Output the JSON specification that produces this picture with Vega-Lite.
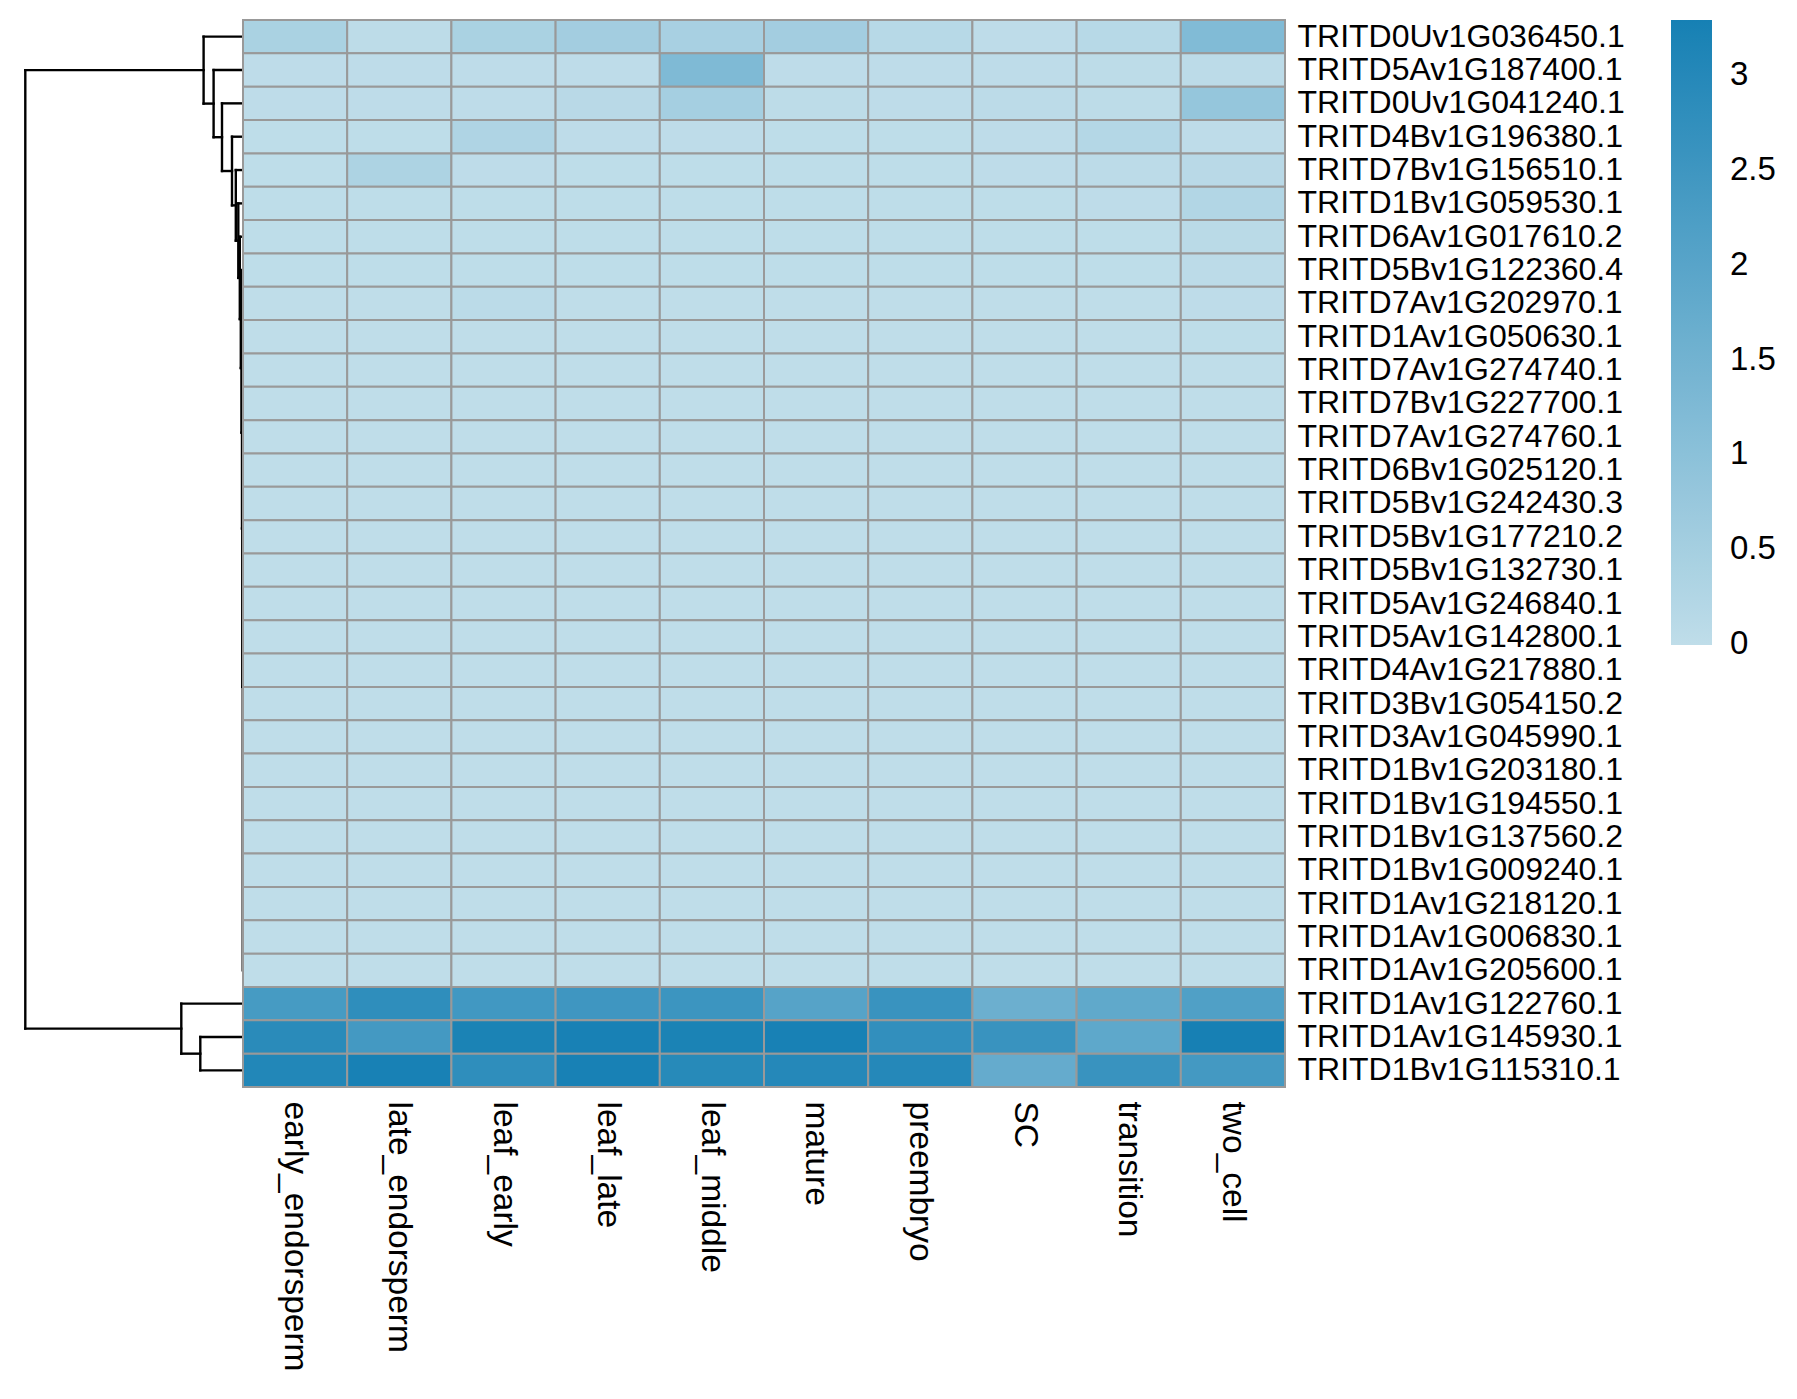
{
  "$schema": "https://vega.github.io/schema/vega-lite/v6.json",
  "background": "white",
  "padding": {"left": 0, "top": 19, "right": 0, "bottom": 0},
  "bounds": "flush",
  "spacing": 0,
  "config": {
    "view": {"stroke": null},
    "font": "Liberation Sans",
    "axis": {"labelFont": "Liberation Sans", "labelColor": "black", "ticks": false, "domain": false, "grid": false, "title": null, "labelLimit": 1000},
    "legend": {"labelFont": "Liberation Sans", "labelColor": "black"}
  },
  "datasets": {
    "dendro": [
      {"h": 217.7, "h2": 217.7, "p": 1.504, "p2": 30.25},
      {"h": 217.7, "h2": 39.4, "p": 1.504, "p2": 1.504},
      {"h": 217.7, "h2": 61.7, "p": 30.25, "p2": 30.25},
      {"h": 61.7, "h2": 61.7, "p": 29.5, "p2": 31.0},
      {"h": 61.7, "h2": 0, "p": 29.5, "p2": 29.5},
      {"h": 61.7, "h2": 42.7, "p": 31.0, "p2": 31.0},
      {"h": 42.7, "h2": 42.7, "p": 30.5, "p2": 31.5},
      {"h": 42.7, "h2": 0, "p": 30.5, "p2": 30.5},
      {"h": 42.7, "h2": 0, "p": 31.5, "p2": 31.5},
      {"h": 39.4, "h2": 39.4, "p": 0.5, "p2": 2.507},
      {"h": 39.4, "h2": 0, "p": 0.5, "p2": 0.5},
      {"h": 39.4, "h2": 29.4, "p": 2.507, "p2": 2.507},
      {"h": 29.4, "h2": 29.4, "p": 1.5, "p2": 3.515},
      {"h": 29.4, "h2": 0, "p": 1.5, "p2": 1.5},
      {"h": 29.4, "h2": 21, "p": 3.515, "p2": 3.515},
      {"h": 21, "h2": 21, "p": 2.5, "p2": 4.529},
      {"h": 21, "h2": 0, "p": 2.5, "p2": 2.5},
      {"h": 21, "h2": 11, "p": 4.529, "p2": 4.529},
      {"h": 11, "h2": 11, "p": 3.5, "p2": 5.559},
      {"h": 11, "h2": 0, "p": 3.5, "p2": 3.5},
      {"h": 11, "h2": 7.2, "p": 5.559, "p2": 5.559},
      {"h": 7.2, "h2": 7.2, "p": 4.5, "p2": 6.617},
      {"h": 7.2, "h2": 0, "p": 4.5, "p2": 4.5},
      {"h": 7.2, "h2": 4.7, "p": 6.617, "p2": 6.617},
      {"h": 4.7, "h2": 4.7, "p": 5.5, "p2": 7.734},
      {"h": 4.7, "h2": 0, "p": 5.5, "p2": 5.5},
      {"h": 4.7, "h2": 3.2, "p": 7.734, "p2": 7.734},
      {"h": 3.2, "h2": 3.2, "p": 6.5, "p2": 8.969},
      {"h": 3.2, "h2": 0, "p": 6.5, "p2": 6.5},
      {"h": 3.2, "h2": 2.2, "p": 8.969, "p2": 8.969},
      {"h": 2.2, "h2": 2.2, "p": 7.5, "p2": 10.4375},
      {"h": 2.2, "h2": 0, "p": 7.5, "p2": 7.5},
      {"h": 2.2, "h2": 1.5, "p": 10.4375, "p2": 10.4375},
      {"h": 1.5, "h2": 1.5, "p": 8.5, "p2": 12.375},
      {"h": 1.5, "h2": 0, "p": 8.5, "p2": 8.5},
      {"h": 1.5, "h2": 1.0, "p": 12.375, "p2": 12.375},
      {"h": 1.0, "h2": 1.0, "p": 9.5, "p2": 15.25},
      {"h": 1.0, "h2": 0, "p": 9.5, "p2": 9.5},
      {"h": 1.0, "h2": 0.7, "p": 15.25, "p2": 15.25},
      {"h": 0.7, "h2": 0.7, "p": 10.5, "p2": 20.0},
      {"h": 0.7, "h2": 0, "p": 10.5, "p2": 10.5},
      {"h": 0.7, "h2": 0.3, "p": 20.0, "p2": 20.0},
      {"h": 0.3, "h2": 0.3, "p": 11.5, "p2": 28.5}
    ],
    "cells": [
      {"g": "TRITD0Uv1G036450.1", "s": "early_endorsperm", "v": 0.4},
      {"g": "TRITD0Uv1G036450.1", "s": "late_endorsperm", "v": 0.03},
      {"g": "TRITD0Uv1G036450.1", "s": "leaf_early", "v": 0.4},
      {"g": "TRITD0Uv1G036450.1", "s": "leaf_late", "v": 0.55},
      {"g": "TRITD0Uv1G036450.1", "s": "leaf_middle", "v": 0.45},
      {"g": "TRITD0Uv1G036450.1", "s": "mature", "v": 0.55},
      {"g": "TRITD0Uv1G036450.1", "s": "preembryo", "v": 0.15},
      {"g": "TRITD0Uv1G036450.1", "s": "SC", "v": 0.02},
      {"g": "TRITD0Uv1G036450.1", "s": "transition", "v": 0.15},
      {"g": "TRITD0Uv1G036450.1", "s": "two_cell", "v": 1.2},
      {"g": "TRITD5Av1G187400.1", "s": "early_endorsperm", "v": 0.02},
      {"g": "TRITD5Av1G187400.1", "s": "late_endorsperm", "v": 0.02},
      {"g": "TRITD5Av1G187400.1", "s": "leaf_early", "v": 0.02},
      {"g": "TRITD5Av1G187400.1", "s": "leaf_late", "v": 0.02},
      {"g": "TRITD5Av1G187400.1", "s": "leaf_middle", "v": 1.25},
      {"g": "TRITD5Av1G187400.1", "s": "mature", "v": 0.02},
      {"g": "TRITD5Av1G187400.1", "s": "preembryo", "v": 0.02},
      {"g": "TRITD5Av1G187400.1", "s": "SC", "v": 0.02},
      {"g": "TRITD5Av1G187400.1", "s": "transition", "v": 0.03},
      {"g": "TRITD5Av1G187400.1", "s": "two_cell", "v": 0.05},
      {"g": "TRITD0Uv1G041240.1", "s": "early_endorsperm", "v": 0.02},
      {"g": "TRITD0Uv1G041240.1", "s": "late_endorsperm", "v": 0.02},
      {"g": "TRITD0Uv1G041240.1", "s": "leaf_early", "v": 0.02},
      {"g": "TRITD0Uv1G041240.1", "s": "leaf_late", "v": 0.12},
      {"g": "TRITD0Uv1G041240.1", "s": "leaf_middle", "v": 0.5},
      {"g": "TRITD0Uv1G041240.1", "s": "mature", "v": 0.03},
      {"g": "TRITD0Uv1G041240.1", "s": "preembryo", "v": 0.02},
      {"g": "TRITD0Uv1G041240.1", "s": "SC", "v": 0.05},
      {"g": "TRITD0Uv1G041240.1", "s": "transition", "v": 0.03},
      {"g": "TRITD0Uv1G041240.1", "s": "two_cell", "v": 0.82},
      {"g": "TRITD4Bv1G196380.1", "s": "early_endorsperm", "v": 0.01},
      {"g": "TRITD4Bv1G196380.1", "s": "late_endorsperm", "v": 0.01},
      {"g": "TRITD4Bv1G196380.1", "s": "leaf_early", "v": 0.3},
      {"g": "TRITD4Bv1G196380.1", "s": "leaf_late", "v": 0.02},
      {"g": "TRITD4Bv1G196380.1", "s": "leaf_middle", "v": 0.02},
      {"g": "TRITD4Bv1G196380.1", "s": "mature", "v": 0.01},
      {"g": "TRITD4Bv1G196380.1", "s": "preembryo", "v": 0.01},
      {"g": "TRITD4Bv1G196380.1", "s": "SC", "v": 0.02},
      {"g": "TRITD4Bv1G196380.1", "s": "transition", "v": 0.2},
      {"g": "TRITD4Bv1G196380.1", "s": "two_cell", "v": 0.02},
      {"g": "TRITD7Bv1G156510.1", "s": "early_endorsperm", "v": 0.01},
      {"g": "TRITD7Bv1G156510.1", "s": "late_endorsperm", "v": 0.35},
      {"g": "TRITD7Bv1G156510.1", "s": "leaf_early", "v": 0.02},
      {"g": "TRITD7Bv1G156510.1", "s": "leaf_late", "v": 0.01},
      {"g": "TRITD7Bv1G156510.1", "s": "leaf_middle", "v": 0.01},
      {"g": "TRITD7Bv1G156510.1", "s": "mature", "v": 0.01},
      {"g": "TRITD7Bv1G156510.1", "s": "preembryo", "v": 0.01},
      {"g": "TRITD7Bv1G156510.1", "s": "SC", "v": 0.02},
      {"g": "TRITD7Bv1G156510.1", "s": "transition", "v": 0.05},
      {"g": "TRITD7Bv1G156510.1", "s": "two_cell", "v": 0.12},
      {"g": "TRITD1Bv1G059530.1", "s": "early_endorsperm", "v": 0.01},
      {"g": "TRITD1Bv1G059530.1", "s": "late_endorsperm", "v": 0.01},
      {"g": "TRITD1Bv1G059530.1", "s": "leaf_early", "v": 0.01},
      {"g": "TRITD1Bv1G059530.1", "s": "leaf_late", "v": 0.01},
      {"g": "TRITD1Bv1G059530.1", "s": "leaf_middle", "v": 0.01},
      {"g": "TRITD1Bv1G059530.1", "s": "mature", "v": 0.01},
      {"g": "TRITD1Bv1G059530.1", "s": "preembryo", "v": 0.01},
      {"g": "TRITD1Bv1G059530.1", "s": "SC", "v": 0.01},
      {"g": "TRITD1Bv1G059530.1", "s": "transition", "v": 0.02},
      {"g": "TRITD1Bv1G059530.1", "s": "two_cell", "v": 0.25},
      {"g": "TRITD6Av1G017610.2", "s": "early_endorsperm", "v": 0.01},
      {"g": "TRITD6Av1G017610.2", "s": "late_endorsperm", "v": 0.01},
      {"g": "TRITD6Av1G017610.2", "s": "leaf_early", "v": 0.01},
      {"g": "TRITD6Av1G017610.2", "s": "leaf_late", "v": 0.01},
      {"g": "TRITD6Av1G017610.2", "s": "leaf_middle", "v": 0.01},
      {"g": "TRITD6Av1G017610.2", "s": "mature", "v": 0.01},
      {"g": "TRITD6Av1G017610.2", "s": "preembryo", "v": 0.01},
      {"g": "TRITD6Av1G017610.2", "s": "SC", "v": 0.01},
      {"g": "TRITD6Av1G017610.2", "s": "transition", "v": 0.01},
      {"g": "TRITD6Av1G017610.2", "s": "two_cell", "v": 0.1},
      {"g": "TRITD5Bv1G122360.4", "s": "early_endorsperm", "v": 0.01},
      {"g": "TRITD5Bv1G122360.4", "s": "late_endorsperm", "v": 0.01},
      {"g": "TRITD5Bv1G122360.4", "s": "leaf_early", "v": 0.01},
      {"g": "TRITD5Bv1G122360.4", "s": "leaf_late", "v": 0.01},
      {"g": "TRITD5Bv1G122360.4", "s": "leaf_middle", "v": 0.01},
      {"g": "TRITD5Bv1G122360.4", "s": "mature", "v": 0.01},
      {"g": "TRITD5Bv1G122360.4", "s": "preembryo", "v": 0.01},
      {"g": "TRITD5Bv1G122360.4", "s": "SC", "v": 0.01},
      {"g": "TRITD5Bv1G122360.4", "s": "transition", "v": 0.01},
      {"g": "TRITD5Bv1G122360.4", "s": "two_cell", "v": 0.05},
      {"g": "TRITD7Av1G202970.1", "s": "early_endorsperm", "v": 0},
      {"g": "TRITD7Av1G202970.1", "s": "late_endorsperm", "v": 0},
      {"g": "TRITD7Av1G202970.1", "s": "leaf_early", "v": 0.07},
      {"g": "TRITD7Av1G202970.1", "s": "leaf_late", "v": 0},
      {"g": "TRITD7Av1G202970.1", "s": "leaf_middle", "v": 0},
      {"g": "TRITD7Av1G202970.1", "s": "mature", "v": 0},
      {"g": "TRITD7Av1G202970.1", "s": "preembryo", "v": 0},
      {"g": "TRITD7Av1G202970.1", "s": "SC", "v": 0},
      {"g": "TRITD7Av1G202970.1", "s": "transition", "v": 0},
      {"g": "TRITD7Av1G202970.1", "s": "two_cell", "v": 0.02},
      {"g": "TRITD1Av1G050630.1", "s": "early_endorsperm", "v": 0},
      {"g": "TRITD1Av1G050630.1", "s": "late_endorsperm", "v": 0},
      {"g": "TRITD1Av1G050630.1", "s": "leaf_early", "v": 0},
      {"g": "TRITD1Av1G050630.1", "s": "leaf_late", "v": 0},
      {"g": "TRITD1Av1G050630.1", "s": "leaf_middle", "v": 0},
      {"g": "TRITD1Av1G050630.1", "s": "mature", "v": 0},
      {"g": "TRITD1Av1G050630.1", "s": "preembryo", "v": 0},
      {"g": "TRITD1Av1G050630.1", "s": "SC", "v": 0},
      {"g": "TRITD1Av1G050630.1", "s": "transition", "v": 0},
      {"g": "TRITD1Av1G050630.1", "s": "two_cell", "v": 0.01},
      {"g": "TRITD7Av1G274740.1", "s": "early_endorsperm", "v": 0},
      {"g": "TRITD7Av1G274740.1", "s": "late_endorsperm", "v": 0},
      {"g": "TRITD7Av1G274740.1", "s": "leaf_early", "v": 0},
      {"g": "TRITD7Av1G274740.1", "s": "leaf_late", "v": 0},
      {"g": "TRITD7Av1G274740.1", "s": "leaf_middle", "v": 0},
      {"g": "TRITD7Av1G274740.1", "s": "mature", "v": 0},
      {"g": "TRITD7Av1G274740.1", "s": "preembryo", "v": 0},
      {"g": "TRITD7Av1G274740.1", "s": "SC", "v": 0},
      {"g": "TRITD7Av1G274740.1", "s": "transition", "v": 0},
      {"g": "TRITD7Av1G274740.1", "s": "two_cell", "v": 0},
      {"g": "TRITD7Bv1G227700.1", "s": "early_endorsperm", "v": 0},
      {"g": "TRITD7Bv1G227700.1", "s": "late_endorsperm", "v": 0},
      {"g": "TRITD7Bv1G227700.1", "s": "leaf_early", "v": 0},
      {"g": "TRITD7Bv1G227700.1", "s": "leaf_late", "v": 0},
      {"g": "TRITD7Bv1G227700.1", "s": "leaf_middle", "v": 0},
      {"g": "TRITD7Bv1G227700.1", "s": "mature", "v": 0},
      {"g": "TRITD7Bv1G227700.1", "s": "preembryo", "v": 0},
      {"g": "TRITD7Bv1G227700.1", "s": "SC", "v": 0},
      {"g": "TRITD7Bv1G227700.1", "s": "transition", "v": 0},
      {"g": "TRITD7Bv1G227700.1", "s": "two_cell", "v": 0},
      {"g": "TRITD7Av1G274760.1", "s": "early_endorsperm", "v": 0},
      {"g": "TRITD7Av1G274760.1", "s": "late_endorsperm", "v": 0},
      {"g": "TRITD7Av1G274760.1", "s": "leaf_early", "v": 0},
      {"g": "TRITD7Av1G274760.1", "s": "leaf_late", "v": 0},
      {"g": "TRITD7Av1G274760.1", "s": "leaf_middle", "v": 0},
      {"g": "TRITD7Av1G274760.1", "s": "mature", "v": 0},
      {"g": "TRITD7Av1G274760.1", "s": "preembryo", "v": 0},
      {"g": "TRITD7Av1G274760.1", "s": "SC", "v": 0},
      {"g": "TRITD7Av1G274760.1", "s": "transition", "v": 0},
      {"g": "TRITD7Av1G274760.1", "s": "two_cell", "v": 0},
      {"g": "TRITD6Bv1G025120.1", "s": "early_endorsperm", "v": 0},
      {"g": "TRITD6Bv1G025120.1", "s": "late_endorsperm", "v": 0},
      {"g": "TRITD6Bv1G025120.1", "s": "leaf_early", "v": 0},
      {"g": "TRITD6Bv1G025120.1", "s": "leaf_late", "v": 0},
      {"g": "TRITD6Bv1G025120.1", "s": "leaf_middle", "v": 0},
      {"g": "TRITD6Bv1G025120.1", "s": "mature", "v": 0},
      {"g": "TRITD6Bv1G025120.1", "s": "preembryo", "v": 0},
      {"g": "TRITD6Bv1G025120.1", "s": "SC", "v": 0},
      {"g": "TRITD6Bv1G025120.1", "s": "transition", "v": 0},
      {"g": "TRITD6Bv1G025120.1", "s": "two_cell", "v": 0},
      {"g": "TRITD5Bv1G242430.3", "s": "early_endorsperm", "v": 0},
      {"g": "TRITD5Bv1G242430.3", "s": "late_endorsperm", "v": 0},
      {"g": "TRITD5Bv1G242430.3", "s": "leaf_early", "v": 0},
      {"g": "TRITD5Bv1G242430.3", "s": "leaf_late", "v": 0},
      {"g": "TRITD5Bv1G242430.3", "s": "leaf_middle", "v": 0},
      {"g": "TRITD5Bv1G242430.3", "s": "mature", "v": 0},
      {"g": "TRITD5Bv1G242430.3", "s": "preembryo", "v": 0},
      {"g": "TRITD5Bv1G242430.3", "s": "SC", "v": 0},
      {"g": "TRITD5Bv1G242430.3", "s": "transition", "v": 0},
      {"g": "TRITD5Bv1G242430.3", "s": "two_cell", "v": 0},
      {"g": "TRITD5Bv1G177210.2", "s": "early_endorsperm", "v": 0},
      {"g": "TRITD5Bv1G177210.2", "s": "late_endorsperm", "v": 0},
      {"g": "TRITD5Bv1G177210.2", "s": "leaf_early", "v": 0},
      {"g": "TRITD5Bv1G177210.2", "s": "leaf_late", "v": 0},
      {"g": "TRITD5Bv1G177210.2", "s": "leaf_middle", "v": 0},
      {"g": "TRITD5Bv1G177210.2", "s": "mature", "v": 0},
      {"g": "TRITD5Bv1G177210.2", "s": "preembryo", "v": 0},
      {"g": "TRITD5Bv1G177210.2", "s": "SC", "v": 0},
      {"g": "TRITD5Bv1G177210.2", "s": "transition", "v": 0},
      {"g": "TRITD5Bv1G177210.2", "s": "two_cell", "v": 0},
      {"g": "TRITD5Bv1G132730.1", "s": "early_endorsperm", "v": 0},
      {"g": "TRITD5Bv1G132730.1", "s": "late_endorsperm", "v": 0},
      {"g": "TRITD5Bv1G132730.1", "s": "leaf_early", "v": 0},
      {"g": "TRITD5Bv1G132730.1", "s": "leaf_late", "v": 0},
      {"g": "TRITD5Bv1G132730.1", "s": "leaf_middle", "v": 0},
      {"g": "TRITD5Bv1G132730.1", "s": "mature", "v": 0},
      {"g": "TRITD5Bv1G132730.1", "s": "preembryo", "v": 0},
      {"g": "TRITD5Bv1G132730.1", "s": "SC", "v": 0},
      {"g": "TRITD5Bv1G132730.1", "s": "transition", "v": 0},
      {"g": "TRITD5Bv1G132730.1", "s": "two_cell", "v": 0},
      {"g": "TRITD5Av1G246840.1", "s": "early_endorsperm", "v": 0},
      {"g": "TRITD5Av1G246840.1", "s": "late_endorsperm", "v": 0},
      {"g": "TRITD5Av1G246840.1", "s": "leaf_early", "v": 0},
      {"g": "TRITD5Av1G246840.1", "s": "leaf_late", "v": 0},
      {"g": "TRITD5Av1G246840.1", "s": "leaf_middle", "v": 0},
      {"g": "TRITD5Av1G246840.1", "s": "mature", "v": 0},
      {"g": "TRITD5Av1G246840.1", "s": "preembryo", "v": 0},
      {"g": "TRITD5Av1G246840.1", "s": "SC", "v": 0},
      {"g": "TRITD5Av1G246840.1", "s": "transition", "v": 0},
      {"g": "TRITD5Av1G246840.1", "s": "two_cell", "v": 0},
      {"g": "TRITD5Av1G142800.1", "s": "early_endorsperm", "v": 0},
      {"g": "TRITD5Av1G142800.1", "s": "late_endorsperm", "v": 0},
      {"g": "TRITD5Av1G142800.1", "s": "leaf_early", "v": 0},
      {"g": "TRITD5Av1G142800.1", "s": "leaf_late", "v": 0},
      {"g": "TRITD5Av1G142800.1", "s": "leaf_middle", "v": 0},
      {"g": "TRITD5Av1G142800.1", "s": "mature", "v": 0},
      {"g": "TRITD5Av1G142800.1", "s": "preembryo", "v": 0},
      {"g": "TRITD5Av1G142800.1", "s": "SC", "v": 0},
      {"g": "TRITD5Av1G142800.1", "s": "transition", "v": 0},
      {"g": "TRITD5Av1G142800.1", "s": "two_cell", "v": 0},
      {"g": "TRITD4Av1G217880.1", "s": "early_endorsperm", "v": 0},
      {"g": "TRITD4Av1G217880.1", "s": "late_endorsperm", "v": 0},
      {"g": "TRITD4Av1G217880.1", "s": "leaf_early", "v": 0},
      {"g": "TRITD4Av1G217880.1", "s": "leaf_late", "v": 0},
      {"g": "TRITD4Av1G217880.1", "s": "leaf_middle", "v": 0},
      {"g": "TRITD4Av1G217880.1", "s": "mature", "v": 0},
      {"g": "TRITD4Av1G217880.1", "s": "preembryo", "v": 0},
      {"g": "TRITD4Av1G217880.1", "s": "SC", "v": 0},
      {"g": "TRITD4Av1G217880.1", "s": "transition", "v": 0},
      {"g": "TRITD4Av1G217880.1", "s": "two_cell", "v": 0},
      {"g": "TRITD3Bv1G054150.2", "s": "early_endorsperm", "v": 0},
      {"g": "TRITD3Bv1G054150.2", "s": "late_endorsperm", "v": 0},
      {"g": "TRITD3Bv1G054150.2", "s": "leaf_early", "v": 0},
      {"g": "TRITD3Bv1G054150.2", "s": "leaf_late", "v": 0},
      {"g": "TRITD3Bv1G054150.2", "s": "leaf_middle", "v": 0},
      {"g": "TRITD3Bv1G054150.2", "s": "mature", "v": 0},
      {"g": "TRITD3Bv1G054150.2", "s": "preembryo", "v": 0},
      {"g": "TRITD3Bv1G054150.2", "s": "SC", "v": 0},
      {"g": "TRITD3Bv1G054150.2", "s": "transition", "v": 0},
      {"g": "TRITD3Bv1G054150.2", "s": "two_cell", "v": 0},
      {"g": "TRITD3Av1G045990.1", "s": "early_endorsperm", "v": 0},
      {"g": "TRITD3Av1G045990.1", "s": "late_endorsperm", "v": 0},
      {"g": "TRITD3Av1G045990.1", "s": "leaf_early", "v": 0},
      {"g": "TRITD3Av1G045990.1", "s": "leaf_late", "v": 0},
      {"g": "TRITD3Av1G045990.1", "s": "leaf_middle", "v": 0},
      {"g": "TRITD3Av1G045990.1", "s": "mature", "v": 0},
      {"g": "TRITD3Av1G045990.1", "s": "preembryo", "v": 0},
      {"g": "TRITD3Av1G045990.1", "s": "SC", "v": 0},
      {"g": "TRITD3Av1G045990.1", "s": "transition", "v": 0},
      {"g": "TRITD3Av1G045990.1", "s": "two_cell", "v": 0},
      {"g": "TRITD1Bv1G203180.1", "s": "early_endorsperm", "v": 0},
      {"g": "TRITD1Bv1G203180.1", "s": "late_endorsperm", "v": 0},
      {"g": "TRITD1Bv1G203180.1", "s": "leaf_early", "v": 0},
      {"g": "TRITD1Bv1G203180.1", "s": "leaf_late", "v": 0},
      {"g": "TRITD1Bv1G203180.1", "s": "leaf_middle", "v": 0},
      {"g": "TRITD1Bv1G203180.1", "s": "mature", "v": 0},
      {"g": "TRITD1Bv1G203180.1", "s": "preembryo", "v": 0},
      {"g": "TRITD1Bv1G203180.1", "s": "SC", "v": 0},
      {"g": "TRITD1Bv1G203180.1", "s": "transition", "v": 0},
      {"g": "TRITD1Bv1G203180.1", "s": "two_cell", "v": 0},
      {"g": "TRITD1Bv1G194550.1", "s": "early_endorsperm", "v": 0},
      {"g": "TRITD1Bv1G194550.1", "s": "late_endorsperm", "v": 0},
      {"g": "TRITD1Bv1G194550.1", "s": "leaf_early", "v": 0},
      {"g": "TRITD1Bv1G194550.1", "s": "leaf_late", "v": 0},
      {"g": "TRITD1Bv1G194550.1", "s": "leaf_middle", "v": 0},
      {"g": "TRITD1Bv1G194550.1", "s": "mature", "v": 0},
      {"g": "TRITD1Bv1G194550.1", "s": "preembryo", "v": 0},
      {"g": "TRITD1Bv1G194550.1", "s": "SC", "v": 0},
      {"g": "TRITD1Bv1G194550.1", "s": "transition", "v": 0},
      {"g": "TRITD1Bv1G194550.1", "s": "two_cell", "v": 0},
      {"g": "TRITD1Bv1G137560.2", "s": "early_endorsperm", "v": 0},
      {"g": "TRITD1Bv1G137560.2", "s": "late_endorsperm", "v": 0},
      {"g": "TRITD1Bv1G137560.2", "s": "leaf_early", "v": 0},
      {"g": "TRITD1Bv1G137560.2", "s": "leaf_late", "v": 0},
      {"g": "TRITD1Bv1G137560.2", "s": "leaf_middle", "v": 0},
      {"g": "TRITD1Bv1G137560.2", "s": "mature", "v": 0},
      {"g": "TRITD1Bv1G137560.2", "s": "preembryo", "v": 0},
      {"g": "TRITD1Bv1G137560.2", "s": "SC", "v": 0},
      {"g": "TRITD1Bv1G137560.2", "s": "transition", "v": 0},
      {"g": "TRITD1Bv1G137560.2", "s": "two_cell", "v": 0},
      {"g": "TRITD1Bv1G009240.1", "s": "early_endorsperm", "v": 0},
      {"g": "TRITD1Bv1G009240.1", "s": "late_endorsperm", "v": 0},
      {"g": "TRITD1Bv1G009240.1", "s": "leaf_early", "v": 0},
      {"g": "TRITD1Bv1G009240.1", "s": "leaf_late", "v": 0},
      {"g": "TRITD1Bv1G009240.1", "s": "leaf_middle", "v": 0},
      {"g": "TRITD1Bv1G009240.1", "s": "mature", "v": 0},
      {"g": "TRITD1Bv1G009240.1", "s": "preembryo", "v": 0},
      {"g": "TRITD1Bv1G009240.1", "s": "SC", "v": 0},
      {"g": "TRITD1Bv1G009240.1", "s": "transition", "v": 0},
      {"g": "TRITD1Bv1G009240.1", "s": "two_cell", "v": 0},
      {"g": "TRITD1Av1G218120.1", "s": "early_endorsperm", "v": 0},
      {"g": "TRITD1Av1G218120.1", "s": "late_endorsperm", "v": 0},
      {"g": "TRITD1Av1G218120.1", "s": "leaf_early", "v": 0},
      {"g": "TRITD1Av1G218120.1", "s": "leaf_late", "v": 0},
      {"g": "TRITD1Av1G218120.1", "s": "leaf_middle", "v": 0},
      {"g": "TRITD1Av1G218120.1", "s": "mature", "v": 0},
      {"g": "TRITD1Av1G218120.1", "s": "preembryo", "v": 0},
      {"g": "TRITD1Av1G218120.1", "s": "SC", "v": 0},
      {"g": "TRITD1Av1G218120.1", "s": "transition", "v": 0},
      {"g": "TRITD1Av1G218120.1", "s": "two_cell", "v": 0},
      {"g": "TRITD1Av1G006830.1", "s": "early_endorsperm", "v": 0},
      {"g": "TRITD1Av1G006830.1", "s": "late_endorsperm", "v": 0},
      {"g": "TRITD1Av1G006830.1", "s": "leaf_early", "v": 0},
      {"g": "TRITD1Av1G006830.1", "s": "leaf_late", "v": 0},
      {"g": "TRITD1Av1G006830.1", "s": "leaf_middle", "v": 0},
      {"g": "TRITD1Av1G006830.1", "s": "mature", "v": 0},
      {"g": "TRITD1Av1G006830.1", "s": "preembryo", "v": 0},
      {"g": "TRITD1Av1G006830.1", "s": "SC", "v": 0},
      {"g": "TRITD1Av1G006830.1", "s": "transition", "v": 0},
      {"g": "TRITD1Av1G006830.1", "s": "two_cell", "v": 0},
      {"g": "TRITD1Av1G205600.1", "s": "early_endorsperm", "v": 0},
      {"g": "TRITD1Av1G205600.1", "s": "late_endorsperm", "v": 0},
      {"g": "TRITD1Av1G205600.1", "s": "leaf_early", "v": 0},
      {"g": "TRITD1Av1G205600.1", "s": "leaf_late", "v": 0},
      {"g": "TRITD1Av1G205600.1", "s": "leaf_middle", "v": 0},
      {"g": "TRITD1Av1G205600.1", "s": "mature", "v": 0},
      {"g": "TRITD1Av1G205600.1", "s": "preembryo", "v": 0},
      {"g": "TRITD1Av1G205600.1", "s": "SC", "v": 0},
      {"g": "TRITD1Av1G205600.1", "s": "transition", "v": 0},
      {"g": "TRITD1Av1G205600.1", "s": "two_cell", "v": 0},
      {"g": "TRITD1Av1G122760.1", "s": "early_endorsperm", "v": 2.35},
      {"g": "TRITD1Av1G122760.1", "s": "late_endorsperm", "v": 2.8},
      {"g": "TRITD1Av1G122760.1", "s": "leaf_early", "v": 2.45},
      {"g": "TRITD1Av1G122760.1", "s": "leaf_late", "v": 2.5},
      {"g": "TRITD1Av1G122760.1", "s": "leaf_middle", "v": 2.55},
      {"g": "TRITD1Av1G122760.1", "s": "mature", "v": 2.05},
      {"g": "TRITD1Av1G122760.1", "s": "preembryo", "v": 2.6},
      {"g": "TRITD1Av1G122760.1", "s": "SC", "v": 1.62},
      {"g": "TRITD1Av1G122760.1", "s": "transition", "v": 1.85},
      {"g": "TRITD1Av1G122760.1", "s": "two_cell", "v": 2.15},
      {"g": "TRITD1Av1G145930.1", "s": "early_endorsperm", "v": 2.9},
      {"g": "TRITD1Av1G145930.1", "s": "late_endorsperm", "v": 2.4},
      {"g": "TRITD1Av1G145930.1", "s": "leaf_early", "v": 3.2},
      {"g": "TRITD1Av1G145930.1", "s": "leaf_late", "v": 3.25},
      {"g": "TRITD1Av1G145930.1", "s": "leaf_middle", "v": 3.2},
      {"g": "TRITD1Av1G145930.1", "s": "mature", "v": 3.25},
      {"g": "TRITD1Av1G145930.1", "s": "preembryo", "v": 2.75},
      {"g": "TRITD1Av1G145930.1", "s": "SC", "v": 2.6},
      {"g": "TRITD1Av1G145930.1", "s": "transition", "v": 1.88},
      {"g": "TRITD1Av1G145930.1", "s": "two_cell", "v": 3.28},
      {"g": "TRITD1Bv1G115310.1", "s": "early_endorsperm", "v": 3.05},
      {"g": "TRITD1Bv1G115310.1", "s": "late_endorsperm", "v": 3.25},
      {"g": "TRITD1Bv1G115310.1", "s": "leaf_early", "v": 2.8},
      {"g": "TRITD1Bv1G115310.1", "s": "leaf_late", "v": 3.25},
      {"g": "TRITD1Bv1G115310.1", "s": "leaf_middle", "v": 2.95},
      {"g": "TRITD1Bv1G115310.1", "s": "mature", "v": 3.0},
      {"g": "TRITD1Bv1G115310.1", "s": "preembryo", "v": 3.0},
      {"g": "TRITD1Bv1G115310.1", "s": "SC", "v": 1.75},
      {"g": "TRITD1Bv1G115310.1", "s": "transition", "v": 2.6},
      {"g": "TRITD1Bv1G115310.1", "s": "two_cell", "v": 2.4}
    ]
  },
  "hconcat": [
    {
      "width": 243,
      "height": 1067,
      "data": {"name": "dendro"},
      "mark": {"type": "rule", "color": "black", "strokeWidth": 2.4, "strokeCap": "square"},
      "encoding": {
        "x": {"field": "h", "type": "quantitative", "scale": {"domain": [0, 243], "reverse": true, "nice": false, "zero": false}, "axis": null},
        "x2": {"field": "h2"},
        "y": {"field": "p", "type": "quantitative", "scale": {"domain": [0, 32], "reverse": true, "nice": false, "zero": false}, "axis": null},
        "y2": {"field": "p2"}
      }
    },
    {
      "width": 1042,
      "height": 1067,
      "data": {"name": "cells"},
      "mark": {"type": "rect", "stroke": "#999999", "strokeWidth": 2},
      "encoding": {
        "x": {
          "field": "s", "type": "nominal",
          "sort": ["early_endorsperm", "late_endorsperm", "leaf_early", "leaf_late", "leaf_middle", "mature", "preembryo", "SC", "transition", "two_cell"],
          "scale": {"paddingInner": 0, "paddingOuter": 0},
          "axis": {"orient": "bottom", "labelAngle": 90, "labelAlign": "left", "labelBaseline": "middle", "labelPadding": 14, "labelFontSize": 33.5}
        },
        "y": {
          "field": "g", "type": "nominal", "sort": null,
          "scale": {"paddingInner": 0, "paddingOuter": 0},
          "axis": {"orient": "right", "labelPadding": 12, "labelFontSize": 32}
        },
        "color": {
          "field": "v", "type": "quantitative",
          "scale": {"domain": [-0.005, 3.29], "range": ["#BFDDE9", "#1680B4"], "interpolate": "rgb", "nice": false, "zero": false},
          "legend": {"orient": "none", "legendX": 1671, "legendY": 0, "title": null, "direction": "vertical", "gradientLength": 625, "gradientThickness": 41, "gradientStrokeWidth": 0, "labelFontSize": 33, "labelOffset": 18, "labelBaseline": "middle", "values": [0, 0.5, 1, 1.5, 2, 2.5, 3], "format": "~g", "padding": 0}
        }
      }
    }
  ]
}
